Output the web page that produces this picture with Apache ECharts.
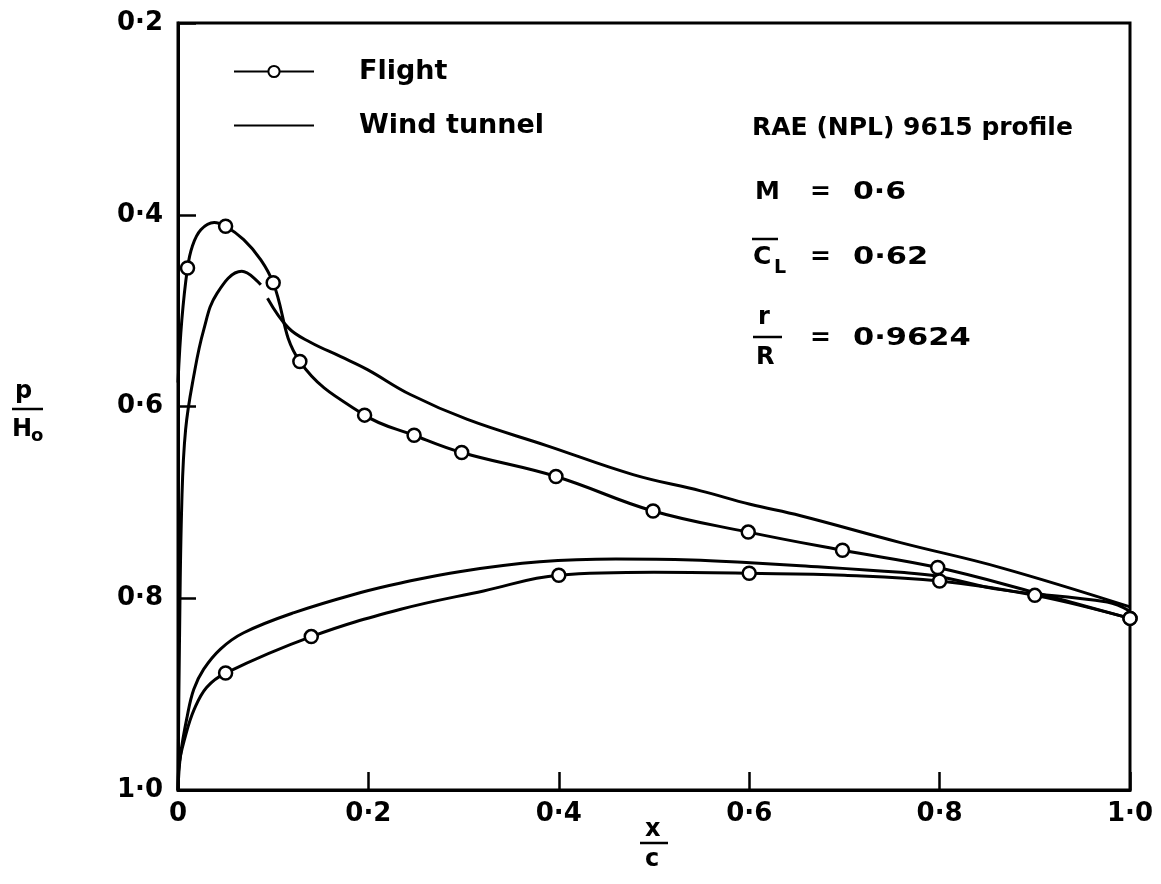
<!DOCTYPE html>
<html>
<head>
<meta charset="utf-8">
<script src="https://cdn.jsdelivr.net/npm/echarts/dist/echarts.min.js"></script>
<style>
  html, body { margin: 0; padding: 0; background: #fff; }
  #chart { width: 1161px; height: 884px; }
</style>
</head>
<body>
<div id="chart"></div>
<script>
// ---------------- data ----------------
const xTickLabels = ['0', '0·2', '0·4', '0·6', '0·8', '1·0'];
const yTickLabels = ['0·2', '0·4', '0·6', '0·8', '1·0'];

// Flight, upper surface: measured points (drawn with circles)
const flightUpperX = [0.01, 0.05, 0.10, 0.128, 0.196, 0.248, 0.298, 0.397, 0.499, 0.599, 0.698, 0.798, 1.0];
const flightUpperY = [0.4555, 0.412, 0.471, 0.553, 0.609, 0.630, 0.648, 0.673, 0.709, 0.731, 0.750, 0.768, 0.821];
// Flight, upper surface: faired-curve points between measurements (no circle)
const flightUpperCurveX = [0.0, 0.004, 0.015, 0.024, 0.038, 0.069, 0.087, 0.9];
const flightUpperCurveY = [0.575, 0.51, 0.433, 0.4156, 0.408, 0.426, 0.447, 0.794];

// Flight, lower surface: measured points
const flightLowerX = [0.05, 0.14, 0.40, 0.60, 0.80, 0.90, 1.0];
const flightLowerY = [0.878, 0.840, 0.776, 0.774, 0.782, 0.797, 0.821];
// Flight, lower surface: faired-curve points
const flightLowerCurveX = [0.0, 0.001, 0.008, 0.017, 0.03, 0.234, 0.321, 0.5, 0.7];
const flightLowerCurveY = [1.0, 0.975, 0.943, 0.916, 0.893, 0.8115, 0.7924, 0.773, 0.776];

// Wind tunnel, upper surface (two traced pieces, gap near x/c = 0.09)
const windUpperNoseX = [0.0, 0.0015, 0.004, 0.008, 0.0166, 0.027, 0.041, 0.067, 0.087];
const windUpperNoseY = [1.0, 0.85, 0.70, 0.624, 0.568, 0.52, 0.482, 0.459, 0.473];
const windUpperAftX = [0.094, 0.116, 0.139, 0.171, 0.199, 0.244, 0.304, 0.388, 0.478, 0.549, 0.601, 0.654, 0.759, 0.864, 1.0];
const windUpperAftY = [0.487, 0.518, 0.533, 0.548, 0.5615, 0.5875, 0.6135, 0.641, 0.671, 0.688, 0.702, 0.714, 0.742, 0.768, 0.809];

// Wind tunnel, lower surface
const windLowerX = [0.0, 0.0026, 0.0097, 0.0166, 0.027, 0.0446, 0.069, 0.122, 0.192, 0.234, 0.297, 0.38, 0.46, 0.54, 0.601, 0.654, 0.759, 0.798, 0.864, 0.976, 1.0];
const windLowerY = [1.0, 0.964, 0.923, 0.895, 0.874, 0.853, 0.836, 0.815, 0.794, 0.784, 0.772, 0.762, 0.759, 0.760, 0.763, 0.766, 0.773, 0.777, 0.791, 0.804, 0.8135];

// ---------------- build ----------------
const FONT = 'DejaVu Sans';
function measured(mx, my, cx, cy) {
  const pts = [];
  mx.forEach((x, i) => pts.push({ value: [x, my[i]] }));
  cx.forEach((x, i) => pts.push({ value: [x, cy[i]], symbol: 'none' }));
  pts.sort((a, b) => a.value[0] - b.value[0]);
  return pts;
}
function pairs(xs, ys) { return xs.map((x, i) => [x, ys[i]]); }

const lineStyle = { color: '#000', width: 3 };
const flightCommon = {
  type: 'line', name: 'Flight', smooth: 0.4,
  symbol: 'circle', symbolSize: 13, showAllSymbol: true,
  lineStyle: lineStyle,
  itemStyle: { color: '#fff', borderColor: '#000', borderWidth: 2.5 },
  z: 5, silent: true, animation: false
};
const windCommon = {
  type: 'line', name: 'Wind tunnel', smooth: 0.4,
  symbol: 'none', lineStyle: lineStyle, itemStyle: { color: '#000' },
  z: 3, silent: true, animation: false
};

const textBase = { fontFamily: FONT, fontWeight: 'bold', fill: '#000' };
function txt(x, y, s, size, sx) {
  return { type: 'text', x: x, y: y, scaleX: sx || 1, silent: true,
    style: Object.assign({ text: s, fontSize: size, verticalAlign: 'middle' }, textBase) };
}
function hline(x1, x2, y, w) {
  return { type: 'line', silent: true, shape: { x1: x1, y1: y, x2: x2, y2: y }, style: { stroke: '#000', lineWidth: w || 2 } };
}

const chart = echarts.init(document.getElementById('chart'));
chart.setOption({
  animation: false,
  backgroundColor: '#fff',
  grid: { left: 178, right: 31, top: 23, bottom: 94, show: true, borderColor: '#000', borderWidth: 3 },
  legend: {
    orient: 'vertical', left: 228, top: 53, itemWidth: 80, itemHeight: 14, itemGap: 27,
    textStyle: { fontFamily: FONT, fontWeight: 'bold', fontSize: 27, color: '#000', padding: [0, 0, 0, 40] },
    data: [{ name: 'Flight' }, { name: 'Wind tunnel', itemStyle: { opacity: 0 } }],
    selectedMode: false
  },
  xAxis: {
    type: 'value', min: 0, max: 1, interval: 0.2,
    axisLine: { show: true, lineStyle: { color: '#000', width: 3 } },
    axisTick: { show: true, inside: true, length: 18, lineStyle: { color: '#000', width: 2.5 } },
    splitLine: { show: false },
    axisLabel: { margin: 11, fontFamily: FONT, fontWeight: 'bold', fontSize: 26, color: '#000',
      formatter: v => xTickLabels[Math.round(v / 0.2)] }
  },
  yAxis: {
    type: 'value', inverse: true, min: 0.2, max: 1.0, interval: 0.2,
    axisLine: { show: true, lineStyle: { color: '#000', width: 3 } },
    axisTick: { show: true, inside: true, length: 18, lineStyle: { color: '#000', width: 2.5 } },
    splitLine: { show: false },
    axisLabel: { margin: 15, fontFamily: FONT, fontWeight: 'bold', fontSize: 26, color: '#000',
      formatter: v => yTickLabels[Math.round((v - 0.2) / 0.2)] }
  },
  series: [
    Object.assign({}, windCommon, { data: pairs(windUpperNoseX, windUpperNoseY) }),
    Object.assign({}, windCommon, { data: pairs(windUpperAftX, windUpperAftY) }),
    Object.assign({}, windCommon, { data: pairs(windLowerX, windLowerY) }),
    Object.assign({}, flightCommon, { data: measured(flightUpperX, flightUpperY, flightUpperCurveX, flightUpperCurveY) }),
    Object.assign({}, flightCommon, { data: measured(flightLowerX, flightLowerY, flightLowerCurveX, flightLowerCurveY) })
  ],
  graphic: [
    txt(752, 128, 'RAE (NPL) 9615 profile', 25),
    txt(755, 192, 'M', 25),
    txt(810, 192, '=', 25),
    txt(853, 192, '0·6', 25, 1.2),
    txt(753, 257, 'C', 25),
    txt(774, 268, 'L', 19),
    hline(752, 778, 239, 2.5),
    txt(810, 257, '=', 25),
    txt(853, 257, '0·62', 25, 1.22),
    txt(758, 318, 'r', 24),
    hline(753, 782, 337, 2.5),
    txt(756, 358, 'R', 24),
    txt(810, 338, '=', 25),
    txt(853, 338, '0·9624', 25, 1.22),
    // y-axis name p / H0
    txt(15, 392, 'p', 24),
    hline(12, 43, 409, 2.5),
    txt(12, 430, 'H', 24),
    txt(31, 436, 'o', 18),
    // x-axis name x / c
    txt(645, 830, 'x', 24),
    hline(640, 668, 843, 2.5),
    txt(645, 860, 'c', 24)
  ]
});
</script>
</body>
</html>
